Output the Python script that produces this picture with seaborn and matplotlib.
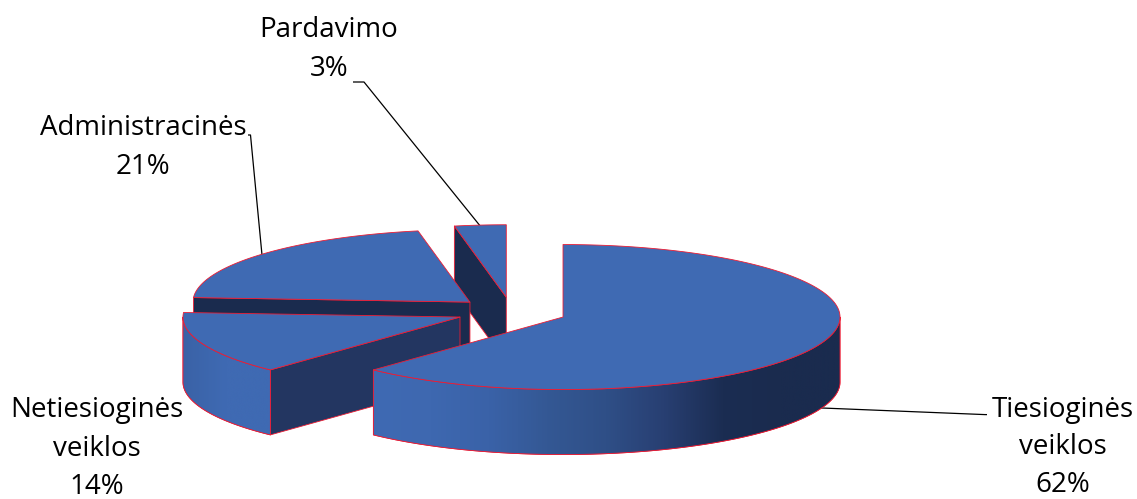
import numpy as np
import seaborn as sns
import matplotlib.pyplot as plt
from matplotlib.patches import Polygon

# Values, clockwise from 12 o'clock
categories = ["Tiesioginės\nveiklos", "Netiesioginės\nveiklos", "Administracinės", "Pardavimo"]
shares = [62, 14, 21, 3]

# Pie geometry (pixels)
CX, CY = 511.5, 311.7
RX, RY = 277, 72.5
DEPTH = 65
EXPLODE = 0.2

BLUE = "#3f6ab3"
EDGE = "#ee1c33"
cut_colors = ["#1a2b4e", "#233661", "#1a2b4e", "#1a2b4e"]
wall_palettes = [
    [BLUE, "#3e68b0", "#3a62a8", "#345894", "#2f4f87", "#283f72", "#1b2d52", "#1a2b4e", "#1a2b4e"],
    ["#3a62a6", BLUE, BLUE],
    [BLUE, BLUE],
    [BLUE, BLUE],
]
wall_stops = [(372, 840), (182, 269), (0, 1), (0, 1)]

# Label placement: centre x, first baseline y, line gap
label_pos = [(1063, 416.5, 38), (97, 417.5, 38), (143, 135, 38.7), (329, 37, 38.7)]
leaders = [
    [(700, 403), (822, 408), (985, 414.6), (987, 414.6)],
    None,
    [(248, 135), (250.5, 135), (262, 255)],
    [(353, 82), (364, 82), (481, 227)],
]

sns.set_theme(style="white")
plt.rcParams["font.family"] = ["Open Sans", "DejaVu Sans"]

fig = plt.figure(figsize=(11.37, 4.99), dpi=100)
ax = fig.add_axes([0, 0, 1, 1])


def rim(cx, cy, angles, drop=0):
    rad = np.radians(angles)
    return np.column_stack([cx + RX * np.sin(rad), cy - RY * np.cos(rad) + drop])


def face(points, color, z):
    patch = Polygon(points, closed=True, facecolor=color, edgecolor=EDGE, linewidth=0.6, joinstyle="round", zorder=z)
    ax.add_patch(patch)
    return patch


for lead in leaders:
    if lead is not None:
        xs, ys = zip(*lead)
        ax.plot(xs, ys, color="black", linewidth=0.9, zorder=1, solid_capstyle="butt")

# Back slices first, so the nearer ones cover them
order = [3, 2, 1, 0]
bounds = np.cumsum([0] + shares) / sum(shares) * 360
z = 2
for i in order:
    start, end = bounds[i], bounds[i + 1]
    mid = np.radians((start + end) / 2)
    cx = CX + EXPLODE * RX * np.sin(mid)
    cy = CY - EXPLODE * RY * np.cos(mid)
    apex = np.array([[cx, cy]])

    # straight cut faces that look towards the viewer
    for ang, visible in ((start, np.sin(np.radians(start)) < -1e-6), (end, np.sin(np.radians(end)) > 1e-6)):
        if visible:
            outer = rim(cx, cy, [ang])
            quad = np.vstack([apex, outer, outer + [0, DEPTH], apex + [0, DEPTH]])
            face(quad, cut_colors[i], z)
            z += 1

    # curved outer wall, only the front half of the ellipse shows
    a0, a1 = max(start, 90), min(end, 270)
    if a1 > a0:
        arc = np.linspace(a0, a1, 200)
        top_edge = rim(cx, cy, arc)
        wall = np.vstack([top_edge, rim(cx, cy, arc[::-1], DEPTH)])
        outline = face(wall, BLUE, z)
        cmap = sns.blend_palette(wall_palettes[i], n_colors=256, as_cmap=True)
        x0, x1 = wall[:, 0].min(), wall[:, 0].max()
        lo, hi = wall_stops[i]
        ramp = np.clip((np.linspace(x0, x1, 600) - lo) / (hi - lo), 0, 1)
        im = ax.imshow(ramp[None, :], cmap=cmap, vmin=0, vmax=1, aspect="auto",
                       extent=(x0, x1, wall[:, 1].max(), wall[:, 1].min()), zorder=z + 1)
        im.set_clip_path(outline)
        outline2 = Polygon(wall, closed=True, facecolor="none", edgecolor=EDGE, linewidth=0.6, zorder=z + 2)
        ax.add_patch(outline2)
        z += 3

    # top of the slice
    top = np.vstack([apex, rim(cx, cy, np.linspace(start, end, 200))])
    face(top, BLUE, z)
    z += 1

# Data labels
for name, share, (x, y, gap) in zip(categories, shares, label_pos):
    for k, line in enumerate(name.split("\n") + [f"{share}%"]):
        ax.text(x, y + k * gap, line, ha="center", va="baseline", fontsize=20, color="black", zorder=50)

ax.set_xlim(0, 1137)
ax.set_ylim(499, 0)
ax.axis("off")
fig.savefig("out.png", dpi=100, facecolor="white")
